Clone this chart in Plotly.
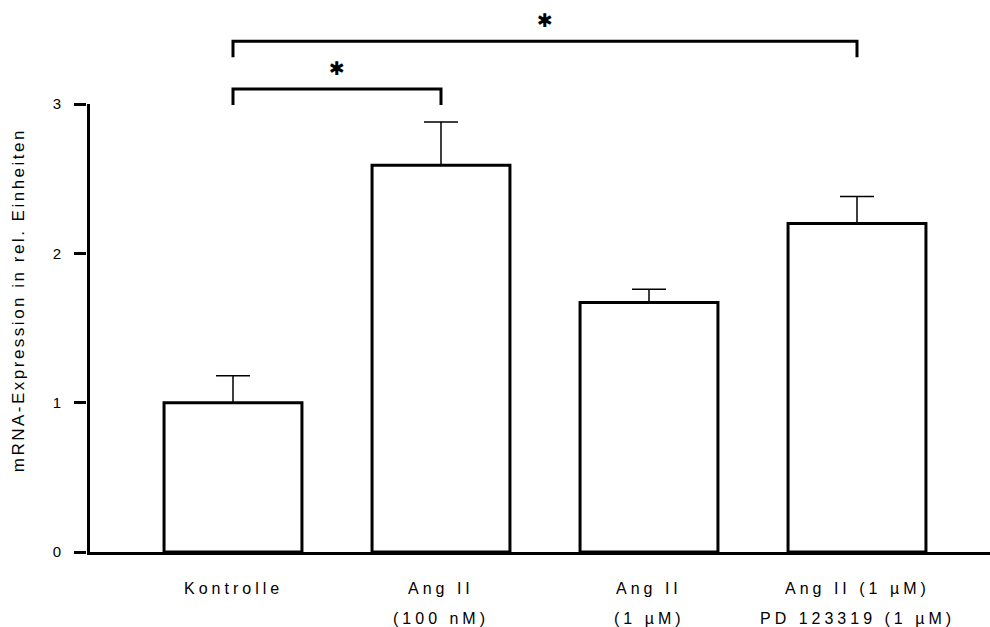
import json
import plotly.graph_objects as go

# ---- data ----
labels_line1 = ["Kontrolle", "Ang II", "Ang II", "Ang II (1 µM)"]
labels_line2 = ["", "(100 nM)", "(1 µM)", "PD 123319 (1 µM)"]
means = [1.00, 2.59, 1.67, 2.20]
errors = [0.18, 0.29, 0.09, 0.18]
y_tick_values = [0, 1, 2, 3]
y_title = "mRNA-Expression in rel. Einheiten"
sig_pairs = [(0, 1), (0, 3)]
sig_marks = ["✱", "✱"]

# ---- layout constants ----
W, H = 990, 627
ML, MR, MT, MB = 87, 0, 0, 75
PW, PH = W - ML - MR, H - MT - MB
X_PX = 208.0                       # pixels per category step
X0_PX = 233.0                      # pixel centre of first bar
x_lo = (ML - X0_PX) / X_PX
x_hi = x_lo + PW / X_PX
Y_PX = (PH - 104 + MT) / 3.0       # pixels per unit
y_hi = PH / Y_PX

FONT = "Liberation Sans, Arial, sans-serif"
xs = list(range(len(means)))

fig = go.Figure()
fig.add_trace(go.Bar(
    x=xs, y=means, width=0.663,
    marker=dict(color="white", line=dict(color="black", width=3)),
    error_y=dict(type="data", array=errors, arrayminus=[0] * len(errors),
                 symmetric=False, color="black", thickness=1.5, width=17),
    showlegend=False, hoverinfo="skip",
))

# significance brackets
bracket_levels = [3.10, 3.42]
drop = 16 / Y_PX
for (a, b), lev, mark in zip(sig_pairs, bracket_levels, sig_marks):
    fig.add_trace(go.Scatter(
        x=[a, a, b, b], y=[lev - drop, lev, lev, lev - drop],
        mode="lines", line=dict(color="black", width=3),
        showlegend=False, hoverinfo="skip",
    ))
    fig.add_annotation(x=(a + b) / 2, y=lev, text=mark, showarrow=False,
                       yshift=21, yanchor="middle",
                       font=dict(family="DejaVu Sans", size=19, color="black"))

# y axis line (0..3 only)
x_axis_line = x_lo + 1.5 / X_PX
fig.add_shape(type="line", xref="x", yref="y", x0=x_axis_line, x1=x_axis_line,
              y0=0, y1=max(y_tick_values), line=dict(color="black", width=3))

# category labels (two lines)
for i, (l1, l2) in enumerate(zip(labels_line1, labels_line2)):
    fig.add_annotation(x=i, y=0, yref="y", text=l1, showarrow=False,
                       yanchor="middle", yshift=-36,
                       font=dict(family=FONT, size=16, color="black"))
    if l2:
        fig.add_annotation(x=i, y=0, yref="y", text=l2, showarrow=False,
                           yanchor="middle", yshift=-66,
                           font=dict(family=FONT, size=16, color="black"))

# y title
fig.add_annotation(xref="paper", yref="paper", x=(18 - ML) / PW,
                   y=(PH - 300) / PH, text=y_title, textangle=-90,
                   showarrow=False, xanchor="center", yanchor="middle",
                   font=dict(family=FONT, size=17, color="black"))

fig.update_layout(
    width=W, height=H,
    margin=dict(l=ML, r=MR, t=MT, b=MB, pad=0),
    plot_bgcolor="white", paper_bgcolor="white",
    xaxis=dict(range=[x_lo, x_hi], showgrid=False, zeroline=False,
               showline=True, linecolor="black", linewidth=3,
               ticks="", showticklabels=False),
    yaxis=dict(range=[0, y_hi], showgrid=False, zeroline=False,
               showline=False, tickvals=y_tick_values, ticks="outside",
               ticklen=12, tickwidth=3, tickcolor="black",
               ticklabelstandoff=10,
               tickfont=dict(family=FONT, size=15, color="black")),
)

# letter spacing of the text (as in the original figure)
spacing = {t: "4px" for t in labels_line1 + labels_line2 if t}
spacing[y_title] = "2.5px"
post = """
var sp = %s;
document.querySelectorAll('text.annotation-text').forEach(function(el){
  var t = el.textContent;
  if (sp.hasOwnProperty(t)) { el.style.letterSpacing = sp[t]; }
});
""" % json.dumps(spacing)

fig.write_html("out.html", post_script=post)
